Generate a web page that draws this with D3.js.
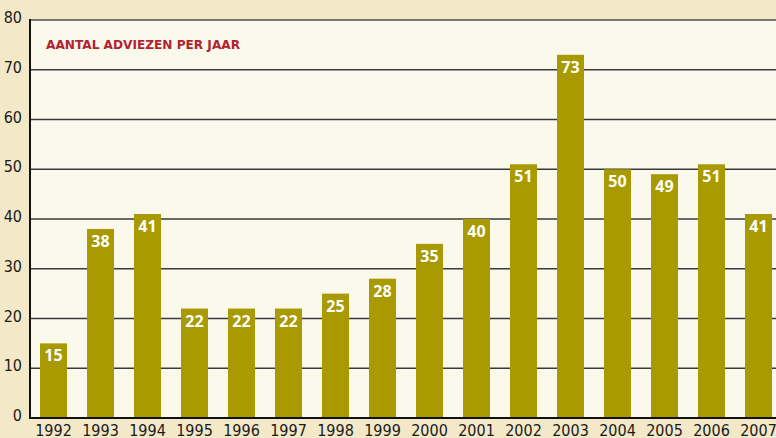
<!DOCTYPE html>
<html>
<head>
<meta charset="utf-8">
<script src="https://cdn.jsdelivr.net/npm/d3@7"></script>
<style>
  body { margin: 0; background: #f3e9c9; }
  svg { display: block; }
  .year { font-family: "Liberation Sans Narrow", "DejaVu Sans Condensed", sans-serif; font-size: 16px; fill: #1a1a1a; }
  .ytick { font-family: "Liberation Sans Narrow", "DejaVu Sans Condensed", sans-serif; font-size: 16px; fill: #1a1a1a; }
  .val { font-family: "Open Sans", sans-serif; font-weight: 700; font-size: 16px; fill: #fff; }
  .title { font-family: "DejaVu Sans", sans-serif; font-weight: 700; font-size: 12px; fill: #b1232f; }
</style>
</head>
<body>
<div id="chart"></div>
<script>
// data
const years = ["1992", "1993", "1994", "1995", "1996", "1997", "1998", "1999",
               "2000", "2001", "2002", "2003", "2004", "2005", "2006", "2007"];
const adviezen = [15, 38, 41, 22, 22, 22, 25, 28, 35, 40, 51, 73, 50, 49, 51, 41];
const yTicks = [0, 10, 20, 30, 40, 50, 60, 70, 80];

const W = 776, H = 438;
const margin = { top: 20, right: 0, bottom: 20, left: 30 };

const svg = d3.select("#chart").append("svg")
    .attr("width", W)
    .attr("height", H);

// outer background
svg.append("rect").attr("width", W).attr("height", H).attr("fill", "#f3e9c9");

const x = d3.scaleBand()
    .domain(years)
    .range([margin.left, margin.left + 47 * 16])
    .paddingInner(20 / 47)
    .paddingOuter(10 / 47);

const y = d3.scaleLinear()
    .domain([0, 80])
    .range([H - margin.bottom, margin.top]);

// plot area
svg.append("rect")
    .attr("x", margin.left)
    .attr("y", y(80))
    .attr("width", W - margin.left)
    .attr("height", y(0) - y(80))
    .attr("fill", "#fbf8ec");

// gridlines
svg.append("g")
    .selectAll("line")
    .data(yTicks.filter(d => d > 0))
    .join("line")
    .attr("x1", margin.left)
    .attr("x2", W)
    .attr("y1", d => y(d))
    .attr("y2", d => y(d))
    .attr("stroke", d => d === 80 ? "#777" : "#3a3a3a")
    .attr("stroke-width", d => d === 80 ? 2 : 1.3);

// bars
svg.append("g")
    .selectAll("rect")
    .data(adviezen)
    .join("rect")
    .attr("x", (d, i) => x(years[i]))
    .attr("y", d => y(d))
    .attr("width", x.bandwidth())
    .attr("height", d => y(0) - y(d))
    .attr("fill", "#a89a00");

// value labels
svg.append("g")
    .selectAll("text")
    .data(adviezen)
    .join("text")
    .attr("class", "val")
    .attr("text-anchor", "middle")
    .attr("x", (d, i) => x(years[i]) + x.bandwidth() / 2)
    .attr("y", d => y(d) + 18)
    .text(d => d);

// axes lines
svg.append("line")
    .attr("x1", margin.left).attr("x2", margin.left)
    .attr("y1", y(80) - 1).attr("y2", y(0) + 1)
    .attr("stroke", "#111").attr("stroke-width", 2);
svg.append("line")
    .attr("x1", margin.left - 1).attr("x2", W)
    .attr("y1", y(0)).attr("y2", y(0))
    .attr("stroke", "#111").attr("stroke-width", 2);

// y tick labels
svg.append("g")
    .selectAll("text")
    .data(yTicks)
    .join("text")
    .attr("class", "ytick")
    .attr("text-anchor", "end")
    .attr("x", 22)
    .attr("y", d => y(d) + 3)
    .text(d => d);

// year labels (cut by the bottom edge, as in the original)
svg.append("g")
    .selectAll("text")
    .data(years)
    .join("text")
    .attr("class", "year")
    .attr("text-anchor", "middle")
    .attr("x", d => x(d) + x.bandwidth() / 2)
    .attr("y", y(0) + 18)
    .text(d => d);

// title
svg.append("text")
    .attr("class", "title")
    .attr("x", 46)
    .attr("y", 49)
    .attr("textLength", 194)
    .attr("lengthAdjust", "spacingAndGlyphs")
    .text("AANTAL ADVIEZEN PER JAAR");
</script>
</body>
</html>
